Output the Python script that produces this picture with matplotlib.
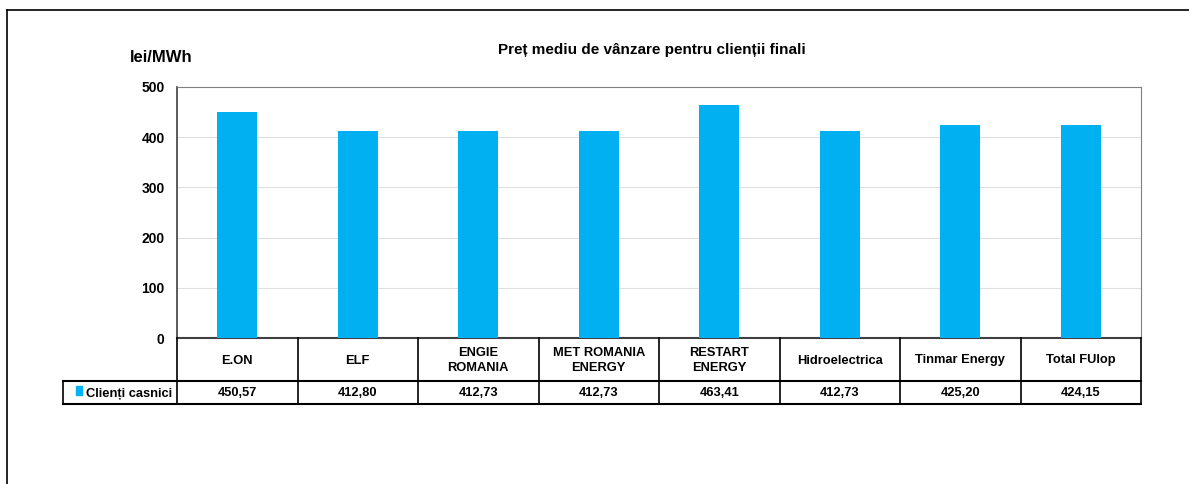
import matplotlib
matplotlib.use("Agg")
import matplotlib.pyplot as plt
from matplotlib.lines import Line2D
from matplotlib.patches import Rectangle
from matplotlib import font_manager as fm

categories = ["E.ON", "ELF", "ENGIE\nROMANIA", "MET ROMANIA\nENERGY", "RESTART\nENERGY",
              "Hidroelectrica", "Tinmar Energy", "Total FUlop"]
values = [450.57, 412.80, 412.73, 412.73, 463.41, 412.73, 425.20, 424.15]
value_labels = ["450,57", "412,80", "412,73", "412,73", "463,41", "412,73", "425,20", "424,15"]
series_name = "Clienți casnici"
yticks = [0, 100, 200, 300, 400, 500]
title = "Preț mediu de vânzare pentru clienții finali"
ylabel = "lei/MWh"

names = {f.name for f in fm.fontManager.ttflist}
narrow = ["Liberation Sans Narrow", "Liberation Sans", "DejaVu Sans"]
narrow = [n for n in narrow if n in names] or ["DejaVu Sans"]
sans = [n for n in ["Liberation Sans", "DejaVu Sans"] if n in names]
tfs = 9.3

W, H = 1189, 484
fig = plt.figure(figsize=(W / 100, H / 100), dpi=100)

def fx(px): return px / W
def fy(py): return 1 - py / H

L, R, T, B = 177, 1141, 87, 338
ax = fig.add_axes([fx(L), fy(B), fx(R - L), (B - T) / H])
color = "#00B0F0"
x = list(range(len(categories)))
ax.bar(x, values, width=0.33, color=color, zorder=3)
ax.set_xlim(-0.5, len(categories) - 0.5)
ax.set_ylim(0, 500)
ax.set_yticks(yticks)
ax.set_yticklabels([str(t) for t in yticks], fontsize=10, fontweight="bold", family=sans)
ax.tick_params(axis="y", length=0, pad=9)
ax.set_xticks([])
for t in yticks[1:-1]:
    ax.axhline(t, color="#E0E0E0", lw=0.8, zorder=1)
for s in ["top", "right"]:
    ax.spines[s].set_color("#808080")
for s in ["left", "bottom"]:
    ax.spines[s].set_color("#404040")
ax.spines["left"].set_linewidth(1.2)
ax.spines["bottom"].set_linewidth(1.5)

# title and y label
fig.text(fx(652), fy(50), title, ha="center", va="center", fontsize=11, fontweight="bold", family=sans)
fig.text(fx(161), fy(57), ylabel, ha="center", va="center", fontsize=12, fontweight="bold", family=sans)

# table
r1, r2, r3 = 338, 381, 404
leftcell = 63
colw = (R - L) / len(categories)
lc = "black"
def hline(y, x0, x1, lw=1.2):
    fig.add_artist(Line2D([fx(x0), fx(x1)], [fy(y), fy(y)], color=lc, lw=lw))
def vline(xp, y0, y1, lw=1.2):
    fig.add_artist(Line2D([fx(xp), fx(xp)], [fy(y0), fy(y1)], color=lc, lw=lw))

hline(r2, leftcell, R, 1.5)
hline(r3, leftcell, R, 1.5)
vline(leftcell, r2, r3, 1.2)
for i in range(len(categories) + 1):
    vline(L + i * colw, r1, r3, 1.2)
for i, (c, v) in enumerate(zip(categories, value_labels)):
    cx = L + (i + 0.5) * colw
    fig.text(fx(cx), fy((r1 + r2) / 2 + 1), c, ha="center", va="center", fontsize=tfs,
             fontweight="bold", family=narrow, linespacing=1.35)
    fig.text(fx(cx), fy((r2 + r3) / 2 + 1), v, ha="center", va="center", fontsize=tfs,
             fontweight="bold", family=narrow)
fig.add_artist(Rectangle((fx(76), fy(395)), fx(6), 9 / H, color=color, transform=fig.transFigure))
fig.text(fx(86), fy((r2 + r3) / 2 + 1), series_name, ha="left", va="center", fontsize=tfs,
         fontweight="bold", family=narrow)

# outer frame
fig.add_artist(Line2D([fx(7), fx(7)], [fy(10), 0], color="black", lw=1.2))
fig.add_artist(Line2D([fx(7), 1], [fy(10), fy(10)], color="black", lw=1.2))

fig.savefig("out.png", dpi=100)
